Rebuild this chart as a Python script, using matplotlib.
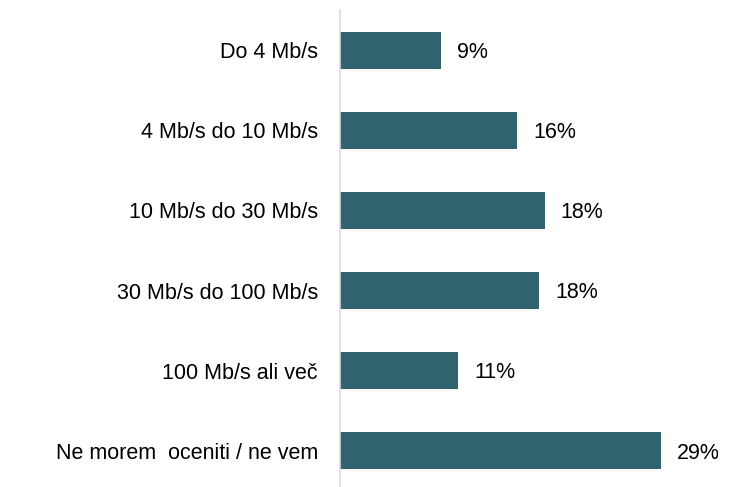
import matplotlib
matplotlib.use("Agg")
from matplotlib import pyplot as plt

categories = ['Do 4 Mb/s', '4 Mb/s do 10 Mb/s', '10 Mb/s do 30 Mb/s',
              '30 Mb/s do 100 Mb/s', '100 Mb/s ali več', 'Ne morem  oceniti / ne vem']
values = [9.1, 16.0, 18.5, 18.0, 10.7, 29.0]
labels = ['9%', '16%', '18%', '18%', '11%', '29%']

plt.rcParams['font.family'] = ['Liberation Sans', 'DejaVu Sans']

fig = plt.figure(figsize=(7.32, 4.87), dpi=100)
ax = fig.add_axes([340/732, 0, 387/732, 477/487])

y = list(range(len(categories)))
ax.barh(y, values, height=0.46, color='#31636f')
for yi, v, lab in zip(y, values, labels):
    ax.annotate(lab, (v, yi), xytext=(11.5, -1.5), textcoords='offset points',
                va='center', ha='left', fontsize=15.5, color='#000000')

ax.set_ylim(5.45, -0.5)
ax.set_xlim(0, 35)
ax.set_yticks(y)
ax.set_yticklabels(categories, fontsize=15.5)
ax.tick_params(axis='y', length=0, pad=16)
ax.set_xticks([])
for s in ['top', 'right', 'bottom']:
    ax.spines[s].set_visible(False)
ax.spines['left'].set_color('#d9d9d9')
ax.spines['left'].set_linewidth(1.2)

fig.savefig('out.png', dpi=100)
